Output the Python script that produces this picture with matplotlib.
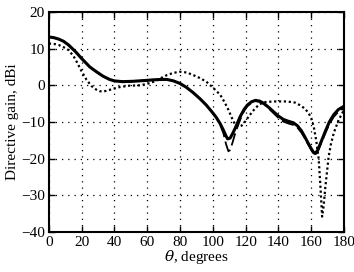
import numpy as np
import matplotlib.pyplot as plt

plt.rcParams['font.family'] = ['Liberation Serif', 'DejaVu Serif']
plt.rcParams['mathtext.fontset'] = 'dejavuserif'

# solid curve
theta_a = [0, 3, 6, 9, 12, 16, 20, 25, 29, 33, 37, 40, 45, 51.5, 58, 64, 69, 72, 76, 80,
           84, 88, 92, 96, 99, 102, 104.5, 106.5, 108, 109, 110.5, 112, 113.6, 116.7,
           119, 121, 123.5, 126, 128.5, 131, 134, 137, 140, 143, 146, 149, 151.5, 154,
           156, 158, 160, 161.5, 162.5, 164, 166, 168.6, 171, 173.7, 176.5, 180]
gain_a = [13.2, 13.0, 12.6, 12.0, 11.0, 9.3, 7.3, 5.0, 3.7, 2.5, 1.6, 1.2, 1.0, 1.1, 1.3,
          1.5, 1.6, 1.6, 1.2, 0.5, -0.6, -2.0, -3.6, -5.4, -7.0, -8.7, -10.5, -12.3,
          -13.8, -14.6, -14.4, -13.2, -11.7, -8.5, -6.6, -5.4, -4.5, -4.1, -4.3, -4.9,
          -6.0, -7.2, -8.4, -9.3, -9.8, -10.2, -11.0, -12.4, -14.0, -15.7, -17.3, -18.4,
          -18.6, -17.6, -15.4, -12.5, -10.0, -8.0, -6.6, -5.7]

# dashed curve
theta_b = [0, 3, 6, 9, 12, 16, 20, 25, 29, 33, 37, 40, 45, 51.5, 58, 64, 69, 72, 76, 80,
           84, 88, 92, 96, 99, 102, 104.5, 106.5, 108, 109.5, 110.5, 112, 114, 117,
           119, 121, 123.5, 126, 128.5, 131, 134, 137, 140, 143, 146, 149, 151.5, 154,
           156, 158, 160, 161.5, 162.5, 164, 166, 168.6, 171, 173.7, 176.5, 180]
gain_b = [13.2, 13.0, 12.6, 12.0, 11.0, 9.3, 7.3, 5.0, 3.7, 2.5, 1.6, 1.2, 1.0, 1.1, 1.3,
          1.5, 1.6, 1.6, 1.2, 0.5, -0.6, -2.0, -3.6, -5.4, -7.0, -8.7, -10.8, -13.2,
          -16.0, -18.0, -17.6, -15.6, -12.5, -9.0, -7.0, -5.7, -4.8, -4.3, -4.5, -5.1,
          -6.3, -7.6, -8.9, -9.9, -10.4, -10.8, -11.5, -12.9, -14.4, -16.0, -17.6, -18.7,
          -19.0, -18.0, -15.8, -13.0, -10.6, -8.6, -7.2, -6.3]

# dotted curve
theta_c = [0, 3, 6, 9, 12, 15, 17, 20, 23, 26, 29, 31, 33, 35, 39, 43, 49, 55.6, 60, 64,
           68, 72, 76, 80, 84, 88, 92, 96, 100, 104.5, 107, 109.5, 111, 112.6, 114, 115.6,
           117.5, 119.7, 122, 125, 128, 131, 137, 145, 150, 153, 156, 158.4, 160, 161.5,
           163, 164.5, 165.5, 166.6, 167.5, 168.6, 170.6, 172, 173.7, 176.7, 180]
gain_c = [11.4, 11.3, 11.0, 10.4, 9.6, 8.0, 6.4, 3.8, 1.5, -0.2, -1.2, -1.6, -1.7, -1.5,
          -1.0, -0.5, -0.1, 0.0, 0.4, 1.0, 1.9, 2.8, 3.4, 3.7, 3.5, 2.8, 2.0, 1.0, -0.6,
          -2.6, -4.5, -6.7, -8.3, -9.9, -10.9, -11.3, -11.0, -9.9, -8.4, -6.7, -5.3, -4.6,
          -4.4, -4.4, -4.7, -5.4, -6.3, -7.6, -9.0, -11.3, -15.0, -20.0, -27.0, -35.8,
          -33.0, -27.6, -19.4, -16.0, -13.0, -9.4, -6.7]

fig = plt.figure(figsize=(3.54, 2.72), dpi=100)
ax = fig.add_axes([0.138, 0.147, 0.834, 0.809])

ax.plot(theta_a, gain_a, color='black', lw=2.2, solid_joinstyle='round')
ax.plot(theta_b, gain_b, color='black', lw=1.3, dashes=(7, 2.5))
ax.plot(theta_c, gain_c, color='black', lw=1.6, linestyle=(0, (1, 1.2)))

ax.set_xlim(0, 180)
ax.set_ylim(-40, 20)
ax.set_xticks(np.arange(0, 181, 20))
ax.set_yticks(np.arange(-40, 21, 10))
ax.grid(True, color='black', linestyle=(0, (1, 4)), linewidth=0.9)
ax.tick_params(direction='in', top=True, right=True, length=4, width=1, labelsize=11,
               pad=3)
for s in ax.spines.values():
    s.set_linewidth(1.5)

ax.set_xlabel(r'$\theta$, degrees', fontsize=11, labelpad=-1)
ax.set_ylabel('Directive gain, dBi', fontsize=11, labelpad=1)

fig.savefig('out.png', dpi=100)
